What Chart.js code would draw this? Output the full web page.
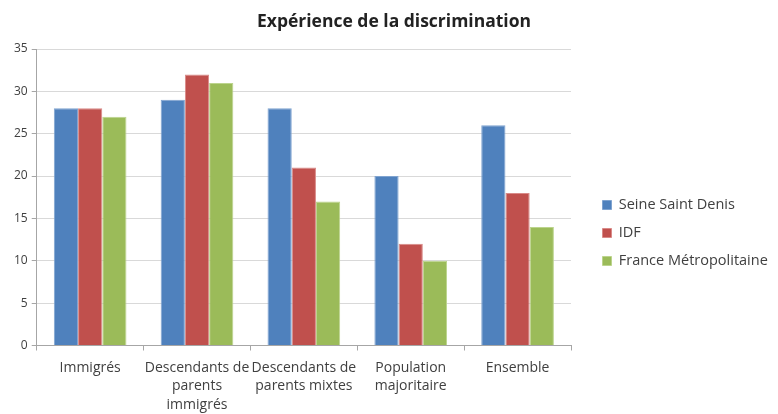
<!DOCTYPE html>
<html>
<head>
<meta charset="utf-8">
<script src="https://cdn.jsdelivr.net/npm/chart.js@4/dist/chart.umd.min.js"></script>
<style>
  html, body { margin: 0; padding: 0; background: #fff; }
  #wrap { width: 778px; height: 414px; }
</style>
</head>
<body>
<div id="wrap"><canvas id="chart" width="778" height="414"></canvas></div>
<script>
// catégories (libellés sur plusieurs lignes)
const categories = [
    ['Immigrés'],
    ['Descendants de', 'parents', 'immigrés'],
    ['Descendants de', 'parents mixtes'],
    ['Population', 'majoritaire'],
    ['Ensemble']
];
const seineSaintDenis = [28, 29, 28, 20, 26];
const idf = [28, 32, 21, 12, 18];
const franceMetro = [27, 31, 17, 10, 14];
const yTicks = [0, 5, 10, 15, 20, 25, 30, 35];

const textColor = '#404040';
const fontFamily = '"Open Sans", sans-serif';

// largeur fixe de la légende et décalage de ses entrées
const legendWidth = 207;
const legendShiftX = 18;
const legendShiftY = 21;

function serie(label, data, color, border) {
    return {
        label: label,
        data: data,
        backgroundColor: color,
        borderColor: border,
        borderWidth: 1,
        categoryPercentage: 0.68,
        barPercentage: 1.0
    };
}

const legendPlacement = {
    id: 'legendPlacement',
    beforeInit(chart) {
        const legend = chart.legend;
        const fit = legend.fit;
        legend.fit = function () {
            fit.call(this);
            this.width = legendWidth;
        };
    },
    afterLayout(chart) {
        const legend = chart.legend;
        legend.left += legendShiftX;
        legend.top += legendShiftY;
        legend.bottom += legendShiftY;
    }
};

const ctx = document.getElementById('chart').getContext('2d');
new Chart(ctx, {
    type: 'bar',
    data: {
        labels: categories,
        datasets: [
            serie('Seine Saint Denis', seineSaintDenis, '#4F81BD', '#7fa3d0'),
            serie('IDF', idf, '#C0504D', '#d98a88'),
            serie('France Métropolitaine', franceMetro, '#9BBB59', '#bcd48d')
        ]
    },
    plugins: [legendPlacement],
    options: {
        responsive: false,
        animation: false,
        layout: { padding: { left: 10, right: 0, top: 2, bottom: -8 } },
        plugins: {
            title: {
                display: true,
                text: 'Expérience de la discrimination',
                color: '#222',
                font: { family: fontFamily, size: 17.5, weight: 'bold' },
                padding: { top: 10, bottom: 16 }
            },
            legend: {
                position: 'right',
                labels: {
                    color: textColor,
                    font: { family: fontFamily, size: 14.5 },
                    boxWidth: 9,
                    boxHeight: 9,
                    padding: 13.5
                }
            },
            tooltip: { enabled: false }
        },
        scales: {
            x: {
                grid: {
                    offset: true,
                    drawOnChartArea: false,
                    color: '#a6a6a6',
                    tickLength: 5
                },
                border: { color: '#a6a6a6' },
                ticks: {
                    color: textColor,
                    font: { family: fontFamily, size: 14, lineHeight: '18.5px' },
                    maxRotation: 0,
                    autoSkip: false,
                    padding: 8
                }
            },
            y: {
                min: 0,
                max: 35,
                afterBuildTicks: axis => { axis.ticks = yTicks.map(v => ({ value: v })); },
                grid: { color: '#d9d9d9', tickLength: 5, tickColor: '#a6a6a6' },
                border: { color: '#a6a6a6' },
                ticks: {
                    color: textColor,
                    font: { family: fontFamily, size: 12 },
                    padding: 4
                }
            }
        }
    }
});
</script>
</body>
</html>
